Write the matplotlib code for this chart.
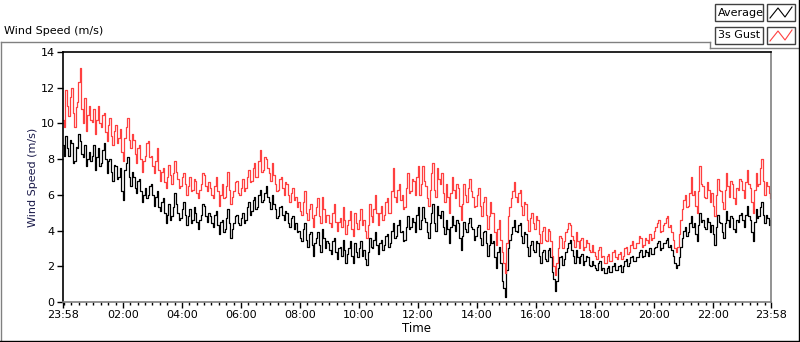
import numpy as np
import pandas as pd
import matplotlib
matplotlib.use('Agg')
import matplotlib.pyplot as plt
import matplotlib.dates as mdates
from matplotlib.lines import Line2D
from matplotlib.patches import Rectangle

plt.rcParams['font.family'] = ['DejaVu Sans']

# 3-minute samples, one row per hour, starting 23:58
average = [
    8.8, 8.2, 9.3, 8.6, 8.2, 9.1, 8.9, 7.8, 7.9, 8.7, 8.6, 9.4, 9.0, 8.3, 8.1, 8.8, 7.6, 8.0, 8.4, 7.9,
    8.2, 8.8, 7.4, 8.1, 8.6, 7.6, 7.8, 8.5, 8.9, 8.0, 7.2, 7.9, 8.0, 7.3, 6.8, 7.7, 7.6, 6.9, 7.0, 7.5,
    6.2, 5.7, 7.4, 7.8, 8.1, 7.0, 6.5, 7.3, 7.0, 6.4, 6.1, 6.8, 6.9, 6.2, 5.6, 6.0, 6.4, 5.8, 6.0, 6.5,
    6.6, 6.0, 5.4, 5.9, 6.2, 5.3, 5.1, 5.6, 5.8, 5.0, 4.4, 4.9, 5.5, 4.6, 4.8, 5.3, 6.1, 5.5, 5.0, 4.6,
    4.7, 5.2, 5.6, 4.9, 4.3, 4.8, 5.2, 4.4, 4.6, 5.3, 5.0, 4.5, 4.1, 4.6, 4.9, 5.5, 5.4, 4.8, 4.5, 5.0,
    4.8, 4.4, 4.2, 4.9, 5.1, 4.3, 3.8, 4.5, 4.6, 3.9, 4.1, 4.7, 5.2, 4.4, 3.6, 4.1, 4.4, 4.8, 4.9, 4.4,
    4.3, 4.7, 5.0, 4.4, 4.6, 5.3, 5.6, 4.9, 5.1, 5.7, 5.9, 5.2, 5.3, 6.0, 6.3, 5.6, 5.7, 6.1, 6.5, 5.9,
    5.6, 5.2, 6.0, 5.5, 5.2, 4.7, 4.8, 5.3, 5.4, 4.9, 4.6, 5.1, 5.0, 4.4, 4.2, 4.7, 4.8, 4.1, 4.4, 3.9,
    4.0, 3.6, 3.4, 4.1, 4.4, 3.5, 3.1, 3.8, 3.9, 3.2, 2.6, 3.3, 3.6, 3.9, 3.2, 2.8, 4.1, 3.6, 3.0, 3.4,
    3.3, 2.9, 2.7, 3.4, 3.6, 2.8, 2.4, 3.0, 3.1, 2.6, 3.5, 2.9, 2.2, 2.7, 3.0, 3.4, 2.6, 2.2, 3.3, 2.8,
    2.5, 3.0, 3.4, 2.6, 2.9, 2.4, 2.1, 2.8, 3.6, 3.1, 3.0, 3.5, 3.9, 3.2, 2.7, 3.3, 3.5, 2.9, 3.2, 3.7,
    3.8, 3.1, 3.3, 4.0, 4.4, 3.6, 3.7, 4.3, 4.6, 3.9, 4.0, 3.4, 3.5, 4.2, 4.8, 4.1, 4.2, 4.7, 4.5, 3.9,
    4.9, 5.3, 4.1, 4.6, 5.3, 4.7, 4.5, 3.9, 3.6, 4.4, 5.0, 5.5, 4.4, 4.0, 5.4, 4.9, 4.7, 5.1, 4.2, 3.8,
    4.6, 4.1, 3.3, 4.2, 4.8, 4.3, 4.0, 4.6, 4.4, 3.6, 2.9, 3.7, 4.5, 4.1, 3.9, 4.4, 4.7, 4.2, 4.1, 3.5,
    3.7, 4.2, 4.3, 3.6, 3.2, 3.9, 4.0, 3.3, 2.6, 3.2, 3.8, 3.3, 3.4, 2.5, 1.9, 2.8, 3.1, 2.2, 1.2, 0.8,
    0.3, 1.8, 3.0, 3.5, 3.8, 4.2, 4.6, 4.0, 3.9, 4.3, 4.4, 3.7, 3.3, 3.9, 3.8, 3.1, 2.6, 3.2, 3.4, 2.9,
    2.8, 3.4, 3.3, 2.6, 2.2, 2.8, 2.9, 2.4, 2.3, 2.9, 3.0, 2.5, 1.7, 1.3, 0.6, 1.2, 1.9, 2.5, 2.6, 2.1,
    2.4, 2.8, 3.0, 3.3, 3.5, 2.9, 2.6, 2.2, 2.9, 2.5, 2.2, 2.6, 2.7, 2.1, 2.3, 2.6, 2.5, 2.1, 2.0, 2.3,
    2.1, 1.9, 1.8, 2.2, 2.3, 1.8, 1.9, 1.6, 1.6, 1.9, 2.0, 1.7, 1.7, 2.0, 2.2, 1.8, 1.8, 2.0, 2.1, 1.7,
    2.0, 2.3, 2.4, 2.0, 2.2, 2.5, 2.6, 2.3, 2.3, 2.5, 2.5, 2.8, 2.9, 2.5, 2.6, 2.9, 2.8, 2.6, 3.0, 2.7,
    2.7, 3.0, 3.1, 3.3, 3.4, 2.9, 3.0, 3.3, 3.3, 3.5, 3.6, 3.1, 3.2, 2.9, 2.6, 2.2, 1.9, 2.1, 2.5, 3.1,
    3.6, 4.0, 4.2, 3.7, 3.9, 4.4, 4.8, 4.2, 4.4, 3.8, 3.4, 4.3, 5.0, 4.5, 4.6, 4.2, 4.1, 4.7, 4.5, 3.9,
    4.3, 3.8, 3.2, 4.2, 4.9, 4.5, 4.4, 3.9, 3.6, 4.4, 5.1, 4.6, 4.2, 4.8, 4.7, 4.1, 3.9, 4.6, 4.5, 4.9,
    5.0, 4.6, 4.2, 4.9, 5.4, 4.8, 4.6, 3.9, 3.4, 4.5, 5.2, 4.7, 4.8, 5.3, 5.6, 4.9, 4.4, 4.9, 4.7, 4.3,
    4.6,
]

gust = [
    10.2, 9.8, 11.9, 11.0, 10.4, 11.5, 12.0, 10.6, 9.8, 10.9, 11.2, 12.3, 13.1, 10.8, 10.0, 11.4, 9.6, 10.5, 11.0, 10.2,
    10.1, 10.8, 9.4, 10.2, 11.0, 10.0, 9.8, 10.5, 10.6, 9.5, 9.0, 9.9, 10.3, 9.3, 8.8, 9.6, 9.9, 8.9, 9.2, 9.7,
    8.4, 7.9, 9.2, 9.8, 10.3, 9.1, 8.6, 9.4, 9.1, 8.3, 7.8, 8.6, 8.8, 8.0, 7.3, 7.9, 8.2, 8.9, 9.0, 8.1,
    8.2, 7.6, 7.2, 7.9, 8.6, 7.4, 6.8, 7.3, 7.5, 6.7, 6.4, 7.0, 7.7, 7.1, 6.6, 7.2, 7.9, 7.3, 6.9, 6.4,
    6.5, 7.0, 7.2, 6.6, 6.0, 6.5, 7.0, 6.2, 6.3, 6.9, 6.8, 6.1, 5.8, 6.3, 6.6, 7.2, 7.1, 6.5, 6.2, 6.7,
    6.4, 6.0, 5.8, 6.5, 7.0, 6.2, 5.4, 6.0, 6.6, 5.8, 5.9, 6.5, 7.3, 6.3, 5.5, 5.9, 6.2, 6.7, 6.8, 6.1,
    6.0, 6.4, 6.9, 6.2, 6.4, 7.0, 7.4, 6.7, 6.8, 7.5, 7.8, 7.0, 7.0, 7.9, 8.5, 7.3, 7.4, 8.1, 8.0, 7.5,
    7.2, 6.8, 7.8, 7.1, 6.6, 6.2, 6.3, 6.9, 7.0, 6.4, 6.0, 6.7, 6.6, 6.0, 5.6, 6.1, 6.4, 5.7, 5.9, 5.3,
    5.6, 5.1, 4.9, 5.6, 6.2, 5.0, 4.6, 5.2, 5.5, 4.7, 4.2, 4.9, 5.3, 5.8, 4.8, 4.4, 5.9, 5.2, 4.5, 4.9,
    4.9, 4.4, 4.2, 5.0, 5.5, 4.5, 4.0, 4.5, 4.7, 4.2, 5.3, 4.6, 3.8, 4.3, 4.6, 5.1, 4.1, 3.7, 5.0, 4.4,
    4.1, 4.6, 5.2, 4.3, 4.6, 4.0, 3.6, 4.3, 5.5, 4.8, 4.5, 5.2, 6.0, 5.0, 4.3, 5.0, 5.4, 4.6, 4.9, 5.6,
    5.8, 5.0, 5.0, 6.2, 7.5, 5.9, 5.6, 6.3, 6.6, 5.7, 6.0, 5.2, 5.3, 6.4, 7.2, 6.1, 6.2, 6.9, 6.8, 6.0,
    7.0, 7.6, 6.0, 6.6, 7.6, 6.8, 6.5, 5.8, 5.4, 6.3, 7.2, 7.8, 6.3, 5.9, 7.5, 6.9, 6.6, 7.2, 6.1, 5.6,
    6.6, 5.9, 5.0, 6.1, 7.0, 6.3, 5.8, 6.6, 6.4, 5.4, 4.6, 5.5, 6.6, 6.0, 5.6, 6.4, 6.9, 6.2, 5.9, 5.3,
    5.4, 6.0, 6.4, 5.4, 4.8, 5.6, 5.9, 4.9, 4.1, 4.8, 5.6, 5.0, 5.0, 3.9, 3.2, 4.1, 4.6, 3.5, 2.8, 2.2,
    1.6, 3.3, 4.8, 5.3, 5.8, 6.2, 6.7, 5.9, 5.6, 6.1, 6.3, 5.4, 4.9, 5.6, 5.5, 4.6, 4.0, 4.7, 5.0, 4.4,
    4.1, 4.8, 4.6, 3.8, 3.3, 4.0, 4.2, 3.5, 3.4, 4.1, 4.0, 3.4, 2.6, 2.0, 1.5, 2.2, 3.0, 3.7, 3.6, 3.0,
    3.4, 3.9, 4.1, 4.4, 4.3, 3.7, 3.5, 3.1, 3.9, 3.4, 3.0, 3.5, 3.6, 2.9, 3.1, 3.5, 3.3, 2.9, 2.8, 3.2,
    2.8, 2.6, 2.4, 2.9, 3.1, 2.5, 2.6, 2.2, 2.2, 2.6, 2.7, 2.3, 2.3, 2.8, 2.9, 2.5, 2.4, 2.7, 2.8, 2.4,
    2.6, 3.0, 3.1, 2.7, 2.8, 3.2, 3.4, 3.0, 3.0, 3.3, 3.3, 3.7, 3.6, 3.1, 3.2, 3.6, 3.5, 3.3, 3.8, 3.5,
    3.6, 4.0, 4.2, 4.4, 4.6, 3.9, 4.0, 4.3, 4.4, 4.7, 4.8, 4.2, 4.3, 3.9, 3.5, 3.0, 2.8, 3.1, 3.8, 4.6,
    5.2, 5.7, 6.0, 5.3, 5.4, 6.1, 7.0, 6.0, 6.2, 5.4, 5.0, 6.2, 7.6, 6.6, 6.5, 5.9, 5.8, 6.7, 6.3, 5.6,
    6.1, 5.4, 4.8, 6.0, 6.9, 6.3, 6.2, 5.6, 5.2, 6.3, 7.2, 6.5, 5.9, 6.8, 6.6, 5.8, 5.5, 6.4, 6.3, 6.9,
    6.8, 6.3, 5.8, 6.7, 7.4, 6.6, 6.4, 5.6, 5.0, 6.3, 7.2, 6.5, 6.6, 7.5, 8.0, 6.8, 6.0, 6.7, 6.5, 6.1,
    5.8,
]

series_names = ['Average', '3s Gust']
series_colors = ['#000000', '#ff4040']
y_ticks = [0, 2, 4, 6, 8, 10, 12, 14]

t_start = pd.Timestamp('2024-01-01 23:58')
t_end = pd.Timestamp('2024-01-02 23:58')
t_avg = pd.date_range(t_start, t_end, periods=len(average))
t_gust = pd.date_range(t_start, t_end, periods=len(gust))
major = [t_start] + list(pd.date_range('2024-01-02 02:00', '2024-01-02 22:00', freq='2h')) + [t_end]

fig = plt.figure(figsize=(8, 3.42), dpi=100)
ax = fig.add_axes([63/800, 40/342, 708/800, 250/342])

ax.plot(t_avg, average, color=series_colors[0], lw=0.9, drawstyle='steps-mid')
ax.plot(t_gust, gust, color=series_colors[1], lw=0.9, drawstyle='steps-mid')

ax.set_xlim(t_start, t_end)
ax.set_ylim(0, 14)
ax.set_yticks(y_ticks)
ax.set_xticks(major)
ax.set_xticklabels([t.strftime('%H:%M') for t in major])
ax.xaxis.set_minor_locator(mdates.MinuteLocator(byminute=[0, 15, 30, 45]))
ax.tick_params(axis='both', which='major', labelsize=8, length=4, width=1, pad=2)
ax.tick_params(axis='x', which='minor', length=2, width=1)
ax.set_ylabel('Wind Speed (m/s)', fontsize=8, color='#1a1a4a', labelpad=2)
ax.set_xlabel('Time', fontsize=8.5, labelpad=1)

ax.spines['top'].set_color('black')
ax.spines['left'].set_color('black')
ax.spines['right'].set_color('#808080')
ax.spines['bottom'].set_color('#808080')
for s in ax.spines.values():
    s.set_linewidth(1.2)

# outer panel frame and caption
def px(x, y):
    return x / 800, 1 - y / 342

frame = [
    ((0.5, 42), (710, 42), '#808080'),
    ((710, 42), (710, 48), '#808080'),
    ((710, 48), (798, 48), '#808080'),
    ((0.5, 42), (0.5, 341), '#808080'),
    ((0, 341), (799, 341), 'black'),
    ((798.5, 0), (798.5, 341), 'black'),
]
for a, b, c in frame:
    (x0, y0), (x1, y1) = px(*a), px(*b)
    fig.add_artist(Line2D([x0, x1], [y0, y1], color=c, lw=1, transform=fig.transFigure))

fig.text(4/800, 1 - 31/342, 'Wind Speed (m/s)', fontsize=8, va='center', ha='left')

# legend boxes
for i, (name, col) in enumerate(zip(series_names, series_colors)):
    top = 4 + i * 23
    x0, y0 = px(715, top + 17)
    fig.add_artist(Rectangle((x0, y0), 48/800, 17/342, transform=fig.transFigure,
                             facecolor='white', edgecolor='#404040', lw=1))
    fig.text(718/800, 1 - (top + 8.5)/342, name, fontsize=8, va='center', ha='left')
    x0, y0 = px(767, top + 17)
    fig.add_artist(Rectangle((x0, y0), 28/800, 17/342, transform=fig.transFigure,
                             facecolor='white', edgecolor='#404040', lw=1))
    zx = [770, 778, 785, 792]
    zy = [top + 14, top + 4, top + 13, top + 3]
    fig.add_artist(Line2D([x/800 for x in zx], [1 - y/342 for y in zy], color=col, lw=0.8,
                          transform=fig.transFigure))

fig.savefig('out.png', dpi=100)
